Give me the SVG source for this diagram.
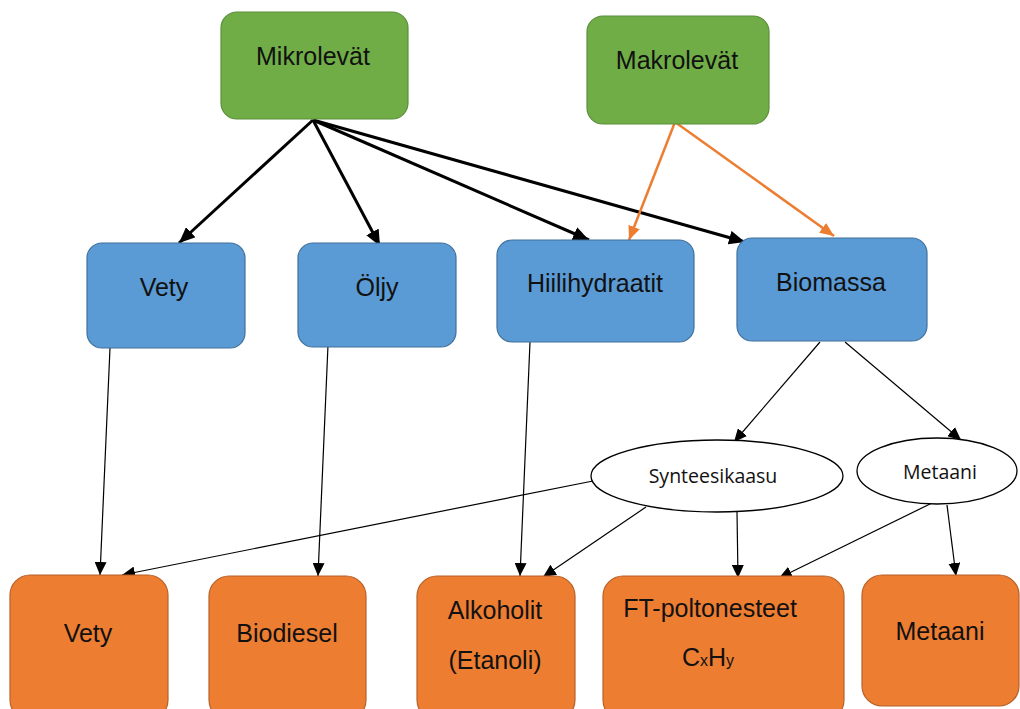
<svg xmlns="http://www.w3.org/2000/svg" width="1020" height="709" viewBox="0 0 1020 709">
<style>
.g{fill:#70AD47;stroke:#5A8F3A;stroke-width:1.2}
.b{fill:#5B9BD5;stroke:#41719C;stroke-width:1.2}
.o{fill:#ED7D31;stroke:#B8612A;stroke-width:1.2}
.e{fill:#fff;stroke:#000;stroke-width:1.3}
.t{font-family:"Liberation Sans",Arial,sans-serif;font-size:25px;fill:#111;text-anchor:middle}
.s{font-family:"Open Sans","Noto Sans",sans-serif;font-size:19.5px;fill:#111;text-anchor:middle}
.k3{stroke:#000;stroke-width:3;fill:none}
.or{stroke:#ED7D31;stroke-width:2.5;fill:none}
.k1{stroke:#000;stroke-width:1.2;fill:none}
</style>
<defs>
<marker id="ah" markerUnits="userSpaceOnUse" markerWidth="18" markerHeight="14" refX="16" refY="7" orient="auto"><path d="M0,0 L16,7 L0,14 Z" fill="#000"/></marker>
<marker id="ao" markerUnits="userSpaceOnUse" markerWidth="16" markerHeight="12" refX="14" refY="6" orient="auto"><path d="M0,0 L14,6 L0,12 Z" fill="#ED7D31"/></marker>
<marker id="as" markerUnits="userSpaceOnUse" markerWidth="14" markerHeight="12" refX="13" refY="6" orient="auto"><path d="M0,0 L13,6 L0,12 Z" fill="#000"/></marker>
</defs>
<rect width="1020" height="709" fill="#fff"/>
<g id="connectors">
<line class="k3" x1="313" y1="120" x2="179" y2="243" marker-end="url(#ah)"/>
<line class="k3" x1="313" y1="120" x2="380" y2="246" marker-end="url(#ah)"/>
<line class="k3" x1="313" y1="120" x2="589" y2="240" marker-end="url(#ah)"/>
<line class="k3" x1="313" y1="120" x2="745" y2="242" marker-end="url(#ah)"/>
<line class="or" x1="675" y1="122" x2="629" y2="240" marker-end="url(#ao)"/>
<line class="or" x1="675" y1="122" x2="834" y2="236" marker-end="url(#ao)"/>
<line class="k1" x1="110" y1="348" x2="100" y2="575" marker-end="url(#as)"/>
<line class="k1" x1="328" y1="345" x2="318" y2="576" marker-end="url(#as)"/>
<line class="k1" x1="530" y1="342" x2="520" y2="576" marker-end="url(#as)"/>
<line class="k1" x1="820" y1="342" x2="734" y2="442" marker-end="url(#as)"/>
<line class="k1" x1="845" y1="342" x2="961" y2="440" marker-end="url(#as)"/>
<line class="k1" x1="593" y1="481" x2="122" y2="575" marker-end="url(#as)"/>
<line class="k1" x1="646" y1="507" x2="543" y2="577" marker-end="url(#as)"/>
<line class="k1" x1="737" y1="512" x2="738" y2="578" marker-end="url(#as)"/>
<line class="k1" x1="932" y1="503" x2="779" y2="578" marker-end="url(#as)"/>
<line class="k1" x1="947" y1="505" x2="956" y2="576" marker-end="url(#as)"/>
</g>
<g id="mikrolevat"><rect class="g" x="221" y="12" width="187" height="107" rx="16"/><text class="t" x="313" y="65">Mikrolevät</text></g>
<g id="makrolevat"><rect class="g" x="587" y="16" width="182" height="108" rx="16"/><text class="t" x="677" y="69">Makrolevät</text></g>
<g id="vety1"><rect class="b" x="87" y="243" width="158" height="105" rx="15"/><text class="t" x="164" y="296">Vety</text></g>
<g id="oljy"><rect class="b" x="298" y="243" width="158" height="104" rx="15"/><text class="t" x="377" y="296">Öljy</text></g>
<g id="hiilihydraatit"><rect class="b" x="497" y="240" width="197" height="102" rx="15"/><text class="t" x="595" y="292">Hiilihydraatit</text></g>
<g id="biomassa"><rect class="b" x="737" y="238" width="190" height="103" rx="15"/><text class="t" x="831" y="291">Biomassa</text></g>
<g id="synteesikaasu"><ellipse class="e" cx="717" cy="476" rx="126" ry="36"/><text class="s" x="713" y="483">Synteesikaasu</text></g>
<g id="metaani1"><ellipse class="e" cx="937" cy="471" rx="80" ry="33"/><text class="s" x="940" y="479">Metaani</text></g>
<g id="vety2"><rect class="o" x="10" y="575" width="158" height="145" rx="20"/><text class="t" x="88" y="642">Vety</text></g>
<g id="biodiesel"><rect class="o" x="209" y="576" width="157" height="144" rx="20"/><text class="t" x="287" y="642">Biodiesel</text></g>
<g id="alkoholit"><rect class="o" x="417" y="576" width="158" height="144" rx="20"/><text class="t" x="495" y="619">Alkoholit</text><text class="t" x="495" y="669">(Etanoli)</text></g>
<g id="ft"><rect class="o" x="603" y="576" width="241" height="144" rx="20"/><text class="t" x="710" y="617">FT-poltonesteet</text><text class="t" x="708" y="666">C<tspan font-size="16">x</tspan>H<tspan font-size="16">y</tspan></text></g>
<g id="metaani2"><rect class="o" x="862" y="575" width="157" height="131" rx="20"/><text class="t" x="940" y="640">Metaani</text></g>
</svg>
